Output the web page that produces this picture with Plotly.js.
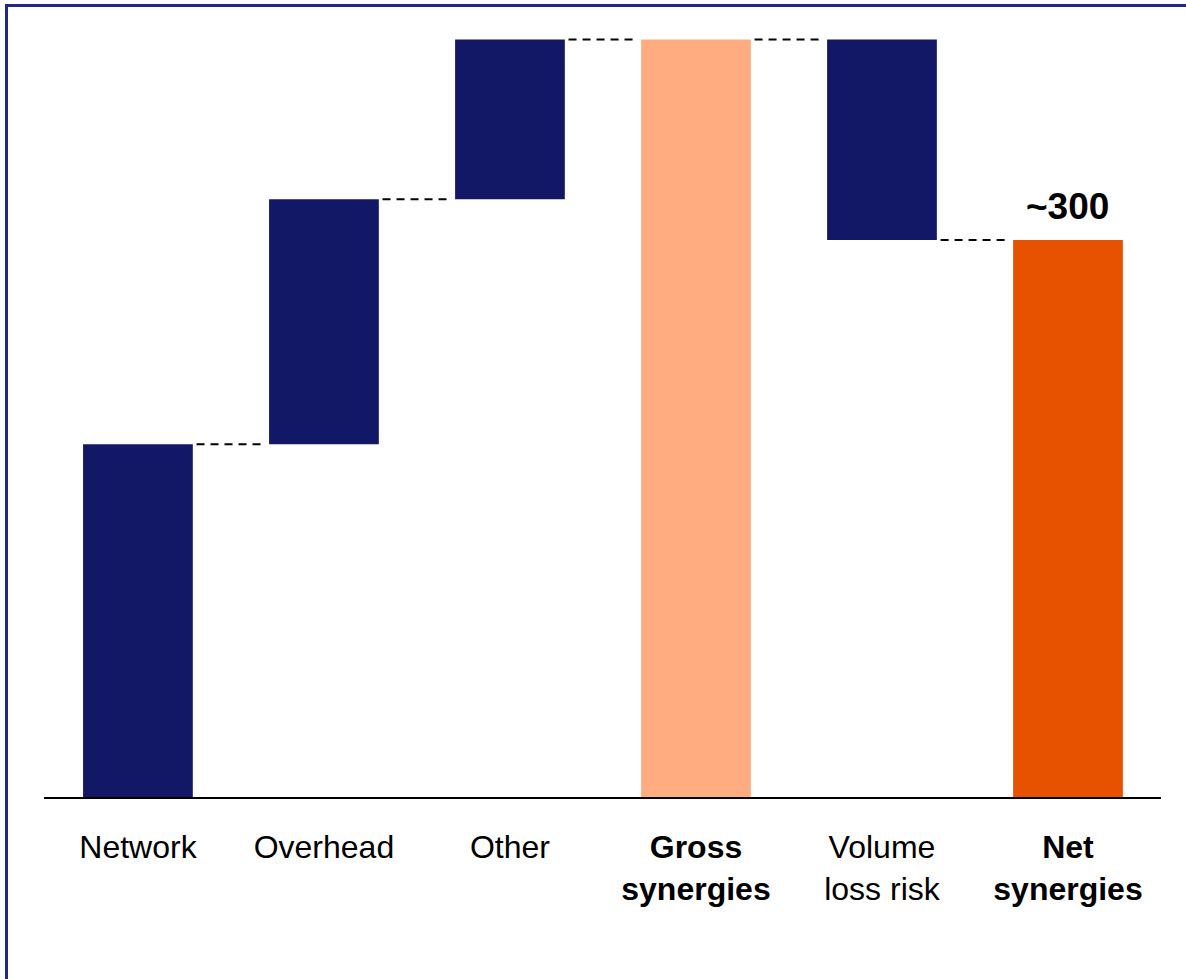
<!DOCTYPE html>
<html>
<head>
<meta charset="utf-8">
<script src="https://cdn.plot.ly/plotly-3.0.1.min.js"></script>
<style>
html,body{margin:0;padding:0;background:#fff;}
#chart{width:1186px;height:979px;}
#frame{position:absolute;left:5px;top:4px;width:1300px;height:1100px;border-left:3px solid #24248a;border-top:3px solid #24248a;pointer-events:none;}
</style>
</head>
<body>
<div id="chart"></div>
<div id="frame"></div>
<script>
// Data
const categories = ["Network", "Overhead", "Other", "<b>Gross</b><br><b>synergies</b>", "Volume<br>loss risk", "<b>Net</b><br><b>synergies</b>"];
const deltas = [190, 132, 86, null, -108, null];   // null = total bar
const barColors = ["#121866", "#121866", "#121866", "#FFAD80", "#121866", "#E65200"];
const netLabel = "~300";

// Build bases / heights from deltas
const xs = categories.map((_, i) => i);
const bases = [], heights = [], levels = [];
let running = 0;
deltas.forEach((d) => {
  if (d === null) { bases.push(0); heights.push(running); }
  else if (d >= 0) { bases.push(running); heights.push(d); running += d; }
  else { bases.push(running + d); heights.push(-d); running += d; }
  levels.push(running);
});

const barWidth = 0.59;
const shapes = [];
for (let i = 0; i < xs.length - 1; i++) {
  shapes.push({
    type: "line", xref: "x", yref: "y",
    x0: xs[i] + barWidth / 2 + 0.02, x1: xs[i + 1] - barWidth / 2 - 0.02,
    y0: levels[i], y1: levels[i],
    line: {color: "#000", width: 2, dash: "8px,6px"}
  });
}

const trace = {
  type: "bar", x: xs, y: heights, base: bases, width: barWidth,
  marker: {color: barColors, line: {width: 0}},
  hoverinfo: "skip", showlegend: false
};

const layout = {
  width: 1186, height: 979,
  margin: {l: 44, r: 25, t: 20, b: 182},
  paper_bgcolor: "#fff", plot_bgcolor: "#fff",
  font: {family: "'Liberation Sans', Arial, sans-serif", color: "#000", size: 32},
  xaxis: {
    range: [-0.505, 5.5], tickmode: "array", tickvals: xs, ticktext: categories,
    showline: true, linecolor: "#000", linewidth: 2, ticks: "", showgrid: false,
    zeroline: false, tickfont: {size: 32, color: "#000"}, ticklabelstandoff: 21,
    fixedrange: true
  },
  yaxis: {range: [0, 418.5], visible: false, fixedrange: true},
  shapes: shapes,
  annotations: [{
    x: xs[5], y: levels[5], xref: "x", yref: "y", text: "<b>" + netLabel + "</b>",
    showarrow: false, yanchor: "bottom", yshift: 11, font: {size: 37, color: "#000"}
  }]
};

Plotly.newPlot("chart", [trace], layout, {displayModeBar: false, staticPlot: true});
</script>
</body>
</html>
